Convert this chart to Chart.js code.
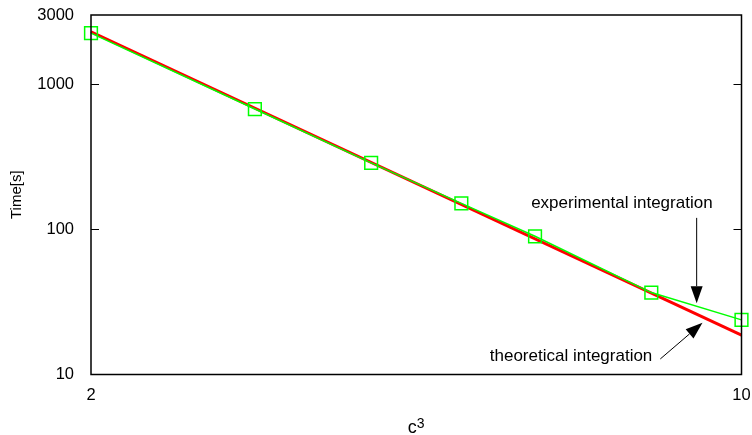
<!DOCTYPE html>
<html><head><meta charset="utf-8">
<script src="https://cdn.jsdelivr.net/npm/chart.js@4/dist/chart.umd.min.js"></script>
<style>html,body{margin:0;padding:0;background:#fff}#wrap{width:752px;height:435px}</style>
</head><body><div id="wrap"><canvas id="c" width="752" height="435"></canvas></div>
<script>
// ---- data ----
const cValues = [2, 3, 4, 5, 6, 8, 10];
const experimentalTimes = [2250, 675, 287, 151, 89.6, 36.7, 23.8];
const theoryC = [2, 10];
const theoreticalTimes = [2300, 18.7];
const xTicks = [2, 10];
const yTicks = [10, 100, 1000, 3000];
const yInnerTicks = [100, 1000];
const xTitle = {base: 'c', sup: '3'};
const expLabel = {text: 'experimental integration', x: 9.31, y: 151};
const expArrow = {x0: 8.95, y0: 120, x1: 8.95, y1: 31};
const theoLabel = {text: 'theoretical integration', x: 8.02, y: 13.4};
const theoArrow = {x0: 8.18, y0: 12.8, x1: 9.08, y1: 22.7};

const FONT = "'Liberation Sans', Arial, sans-serif";

function arrow(ctx, x0, y0, x1, y1) {
  const ang = Math.atan2(y1 - y0, x1 - x0);
  const L = 17, W = 6;
  const bx = x1 - L * Math.cos(ang), by = y1 - L * Math.sin(ang);
  ctx.beginPath();
  ctx.moveTo(x0, y0); ctx.lineTo(bx, by);
  ctx.lineWidth = 1; ctx.strokeStyle = '#000'; ctx.stroke();
  ctx.beginPath();
  ctx.moveTo(x1, y1);
  ctx.lineTo(bx + W * Math.sin(ang), by - W * Math.cos(ang));
  ctx.lineTo(bx - W * Math.sin(ang), by + W * Math.cos(ang));
  ctx.closePath(); ctx.fillStyle = '#000'; ctx.fill();
}

const framePlugin = {
  id: 'frame',
  afterDraw(chart) {
    const {ctx, chartArea: a, scales: {x, y}} = chart;
    ctx.save();
    ctx.strokeStyle = '#000'; ctx.lineWidth = 1.5;
    ctx.strokeRect(a.left, a.top, a.right - a.left, a.bottom - a.top);
    ctx.beginPath();
    yInnerTicks.forEach(v => {
      const py = Math.round(y.getPixelForValue(v)) + 0.5;
      ctx.moveTo(a.left, py); ctx.lineTo(a.left + 8, py);
      ctx.moveTo(a.right, py); ctx.lineTo(a.right - 8, py);
    });
    ctx.lineWidth = 1; ctx.stroke();
    ctx.fillStyle = '#000';
    // x axis title with superscript
    const cx = (a.left + a.right) / 2;
    ctx.textBaseline = 'alphabetic'; ctx.textAlign = 'left';
    ctx.font = '18px ' + FONT;
    const wBase = ctx.measureText(xTitle.base).width;
    ctx.font = '14px ' + FONT;
    const wSup = ctx.measureText(xTitle.sup).width;
    const startX = cx - (wBase + wSup) / 2;
    ctx.font = '18px ' + FONT;
    ctx.fillText(xTitle.base, startX, 433);
    ctx.font = '14px ' + FONT;
    ctx.fillText(xTitle.sup, startX + wBase, 428);
    // annotations
    ctx.font = '17px ' + FONT;
    ctx.textAlign = 'right'; ctx.textBaseline = 'middle';
    ctx.fillText(expLabel.text, x.getPixelForValue(expLabel.x), y.getPixelForValue(expLabel.y));
    ctx.fillText(theoLabel.text, x.getPixelForValue(theoLabel.x), y.getPixelForValue(theoLabel.y));
    arrow(ctx, x.getPixelForValue(expArrow.x0), y.getPixelForValue(expArrow.y0),
               x.getPixelForValue(expArrow.x1), y.getPixelForValue(expArrow.y1));
    arrow(ctx, x.getPixelForValue(theoArrow.x0), y.getPixelForValue(theoArrow.y0),
               x.getPixelForValue(theoArrow.x1), y.getPixelForValue(theoArrow.y1));
    ctx.restore();
  }
};

new Chart(document.getElementById('c'), {
  type: 'line',
  data: {
    datasets: [
      {
        label: 'theoretical integration',
        data: theoryC.map((c, i) => ({x: c, y: theoreticalTimes[i]})),
        borderColor: '#ff0000', borderWidth: 3, pointRadius: 0, order: 2, clip: false
      },
      {
        label: 'experimental integration',
        data: cValues.map((c, i) => ({x: c, y: experimentalTimes[i]})),
        borderColor: '#00ff00', borderWidth: 1.5,
        pointStyle: 'rect', pointRadius: 9, pointBorderWidth: 1.5,
        pointBorderColor: '#00ff00', pointBackgroundColor: 'rgba(0,0,0,0)',
        order: 1, clip: false
      }
    ]
  },
  options: {
    responsive: false, animation: false, devicePixelRatio: 1,
    layout: {padding: {top: 15, right: 9.5, left: 0, bottom: 0}},
    plugins: {legend: {display: false}, tooltip: {enabled: false}},
    scales: {
      x: {
        type: 'logarithmic', min: 2, max: 10,
        afterBuildTicks: s => { s.ticks = xTicks.map(v => ({value: v})); },
        afterFit: s => { s.height = 60.5; s.paddingLeft = 0; s.paddingRight = 0; },
        grid: {display: false, drawTicks: false}, border: {display: false},
        ticks: {padding: 11, color: '#000', font: {family: FONT, size: 16.5}, callback: v => String(v), maxRotation: 0, autoSkip: false}
      },
      y: {
        type: 'logarithmic', min: 10, max: 3000,
        afterBuildTicks: s => { s.ticks = yTicks.map(v => ({value: v})); },
        afterFit: s => { s.width = 91; s.paddingTop = 0; s.paddingBottom = 0; },
        grid: {display: false, drawTicks: false}, border: {display: false},
        ticks: {padding: 17, color: '#000', font: {family: FONT, size: 16.5}, callback: v => String(v), autoSkip: false},
        title: {display: true, text: 'Time[s]', color: '#000', font: {family: FONT, size: 15}, padding: {top: 8, bottom: 0}}
      }
    }
  },
  plugins: [framePlugin]
});
</script></body></html>
